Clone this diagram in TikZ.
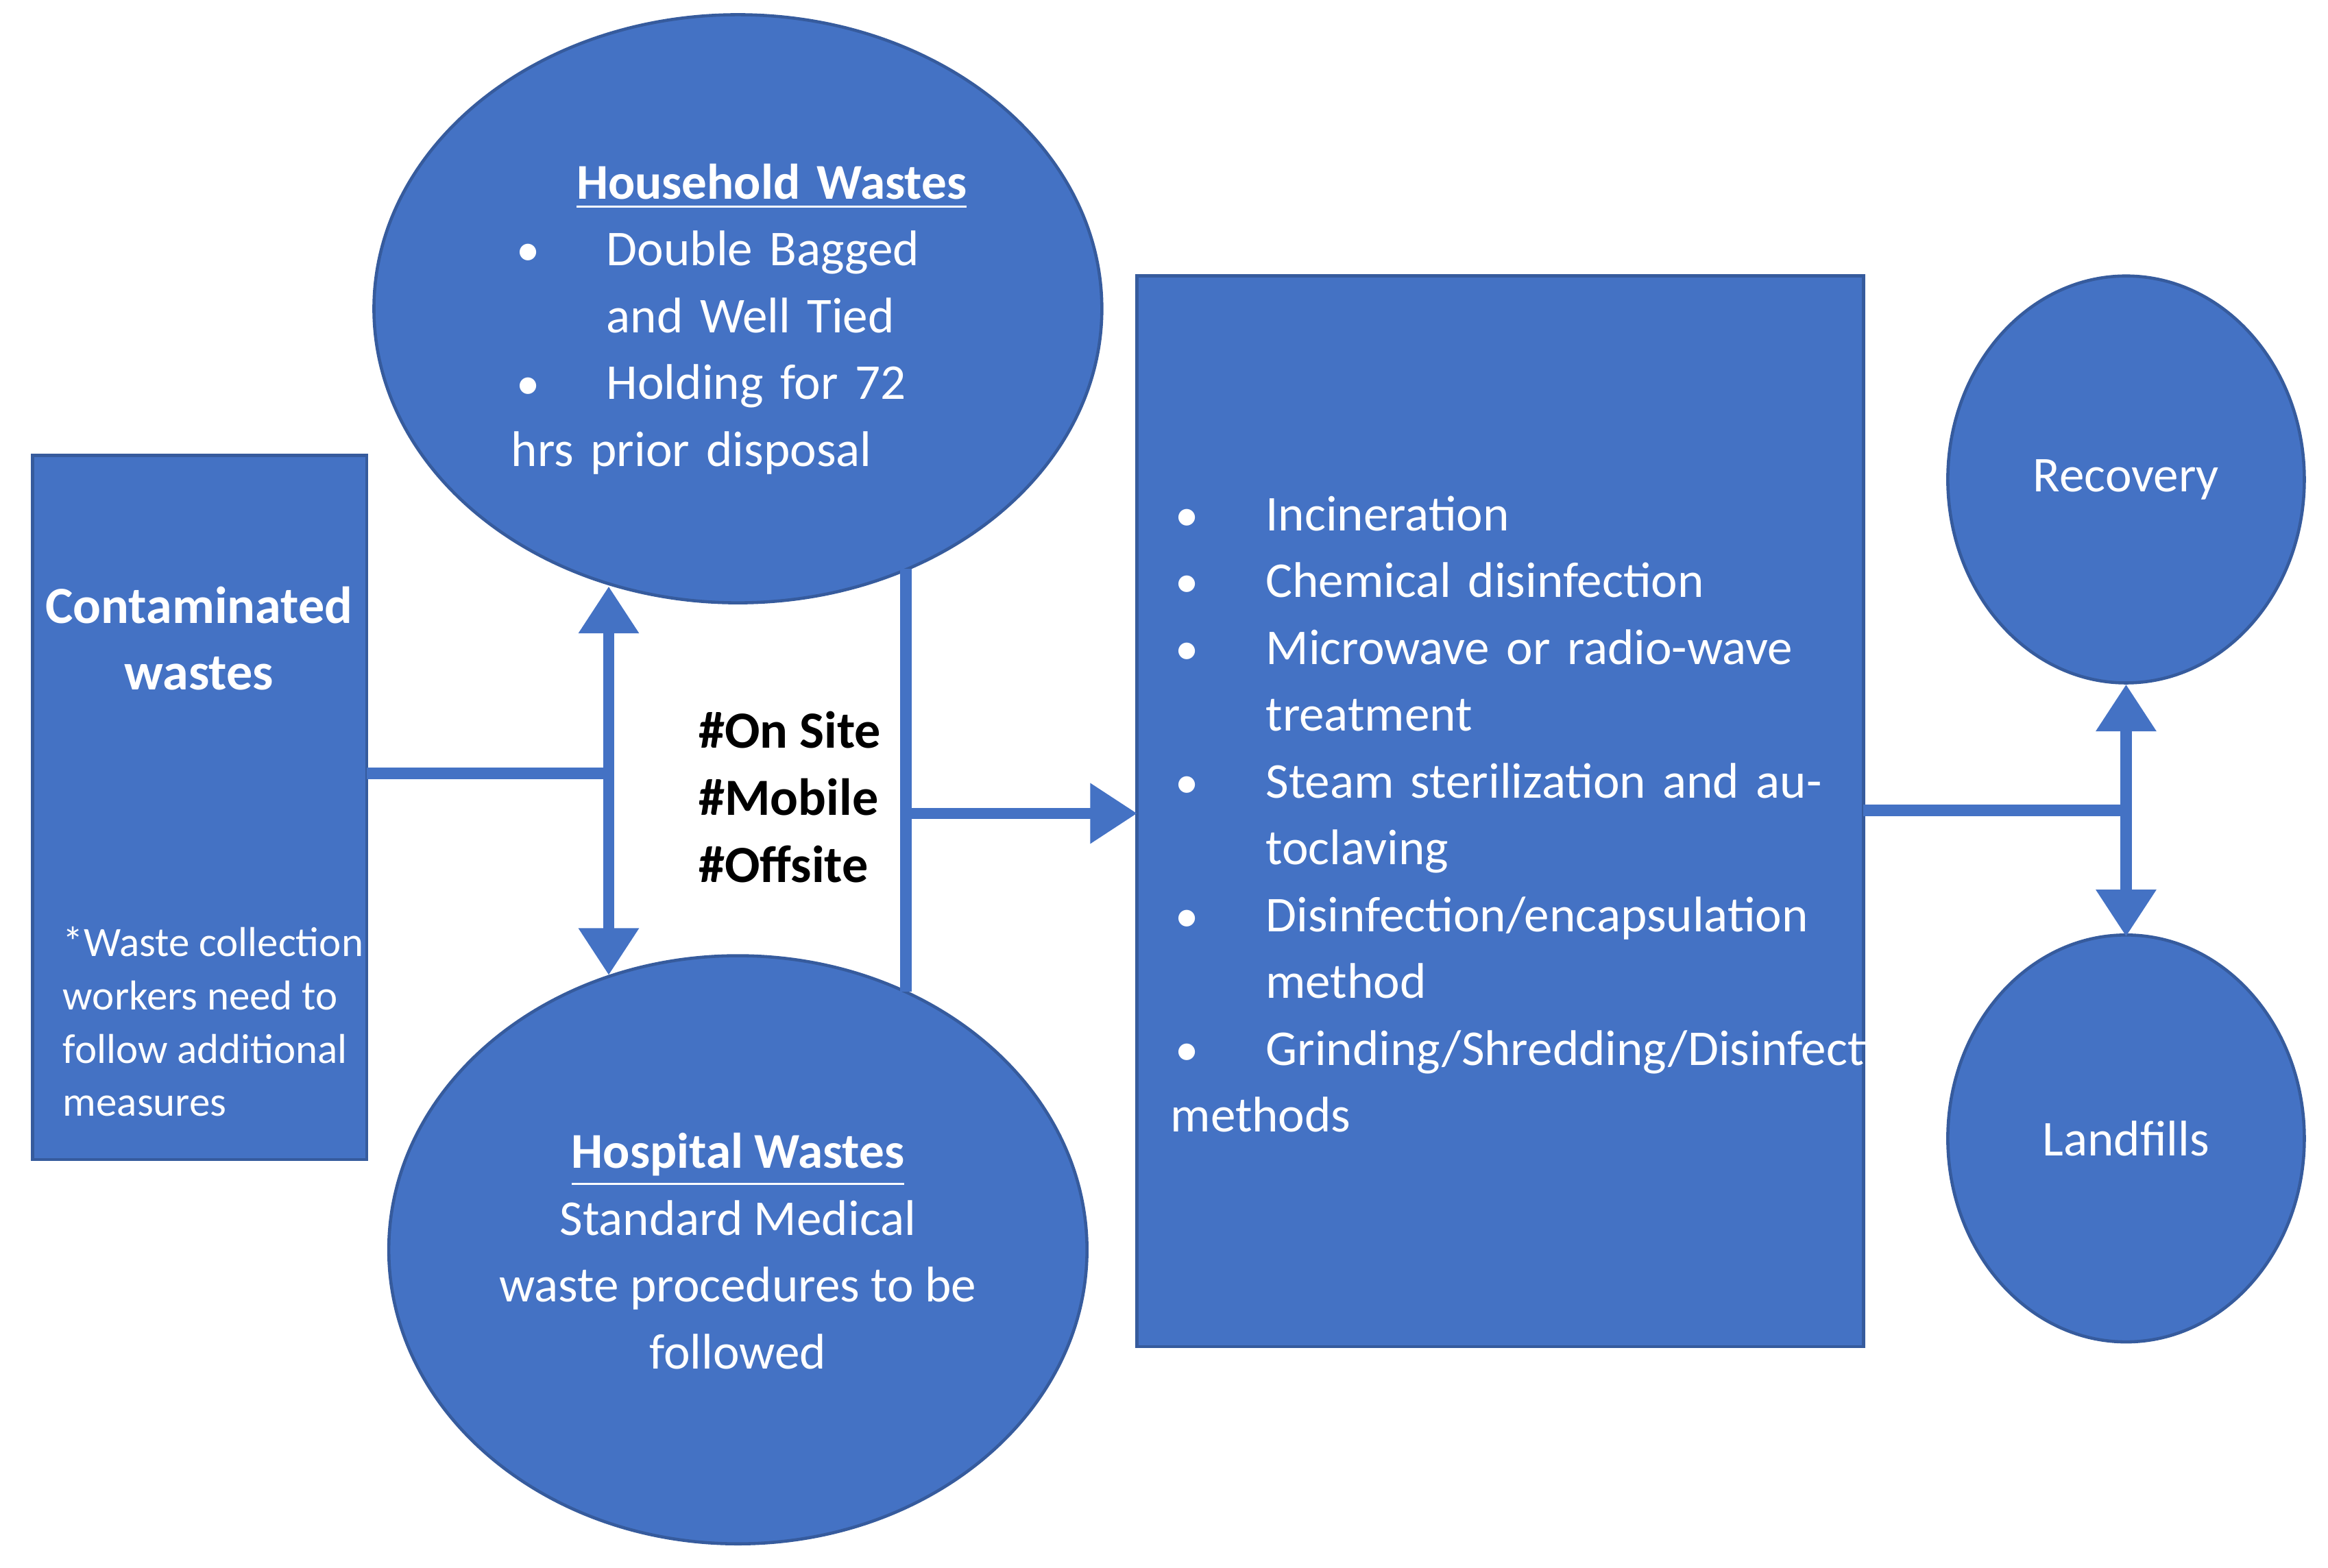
\documentclass[tikz,border=0pt]{standalone}
\usepackage{fontspec}
\setmainfont{Carlito}
\usetikzlibrary{arrows.meta, shapes.geometric}
\definecolor{wblue}{HTML}{4472C4}
\newcommand{\wbul}{\par\hangindent=1.9em\hangafter=1\noindent\makebox[1.9em][l]{\hspace*{0.1em}\small\textbullet}}
\tikzset{
  box/.style={fill=wblue, draw=wblue!80!black, line width=0.6pt, inner sep=0pt},
  blob/.style={ellipse, fill=wblue, draw=wblue!80!black, line width=0.6pt, inner sep=0pt},
  txt/.style={text=white, font=\fontsize{9.6}{12.8}\selectfont, align=left},
  link/.style={draw=wblue, line width=2.2pt},
  bigarrow/.style={-{Triangle[length=9pt, width=11pt]}}
}
\begin{document}
\begin{tikzpicture}[x=0.01cm, y=-0.01cm]
\useasboundingbox (0,0) rectangle (1568,1056);
\node[box, minimum width=2.25cm, minimum height=4.74cm] (cont) at (134.5,544) {};
\node[box, minimum width=4.89cm, minimum height=7.21cm] (treat) at (1010.5,546.5) {};
\node[blob, minimum width=4.9cm, minimum height=3.96cm] (house) at (497,208) {};
\node[blob, minimum width=4.7cm, minimum height=3.96cm] (hosp) at (497,842) {};
\node[blob, minimum width=2.4cm, minimum height=2.74cm] (recov) at (1432,323) {};
\node[blob, minimum width=2.4cm, minimum height=2.74cm] (land) at (1432,767) {};
% texts
\node[txt, font=\bfseries\fontsize{10}{12.8}\selectfont, align=center] (conttitle) at (134,430) {Contaminated\\wastes};
\node[txt, font=\fontsize{8}{10.2}\selectfont, anchor=north west] (contnote) at (30,612) {*Waste collection\\workers need to\\follow additional\\measures};
\node[txt, anchor=north west, text width=2.9cm] (housetext) at (332,98) {%
\noindent\hspace*{1.3em}\underline{\textbf{Household Wastes}}
\wbul Double Bagged and Well Tied
\wbul Holding for 72 hrs prior disposal};
\node[txt, align=center] (hosptext) at (497,843) {\underline{\textbf{Hospital Wastes}}\\Standard Medical\\waste procedures to be\\followed};
\node[txt, anchor=north west, text width=4.6cm] (treattext) at (776,300) {%
\wbul Incineration
\wbul Chemical disinfection
\wbul Microwave or radio-wave treatment
\wbul Steam sterilization and autoclaving
\wbul Disinfection/encapsulation method
\wbul Grinding/Shredding/Disinfection methods};
\node[txt] (recovtext) at (recov) {Recovery};
\node[txt] (landtext) at (land) {Landfills};
\node[font=\bfseries\fontsize{10}{12.9}\selectfont, align=left] (sites) at (532,537) {\#On Site\\\#Mobile\\\#Offsite};
% connectors
\coordinate (j1) at (410,521);
\coordinate (c1) at (247,521);
\coordinate (t1) at (410,395);
\coordinate (b1) at (410,657);
\coordinate (t2) at (610,383);
\coordinate (b2) at (610,668);
\coordinate (m2) at (610,548);
\coordinate (e2) at (766,548);
\coordinate (c3) at (1255,546);
\coordinate (j3) at (1432,546);
\coordinate (t3) at (1432,461);
\coordinate (b3) at (1432,631);
\draw[link] (c1) -- (j1);
\draw[link, bigarrow] (j1) -- (t1);
\draw[link, bigarrow] (j1) -- (b1);
\draw[link] (t2) -- (b2);
\draw[link, bigarrow] (m2) -- (e2);
\draw[link] (c3) -- (j3);
\draw[link, bigarrow] (j3) -- (t3);
\draw[link, bigarrow] (j3) -- (b3);
\end{tikzpicture}
\end{document}
